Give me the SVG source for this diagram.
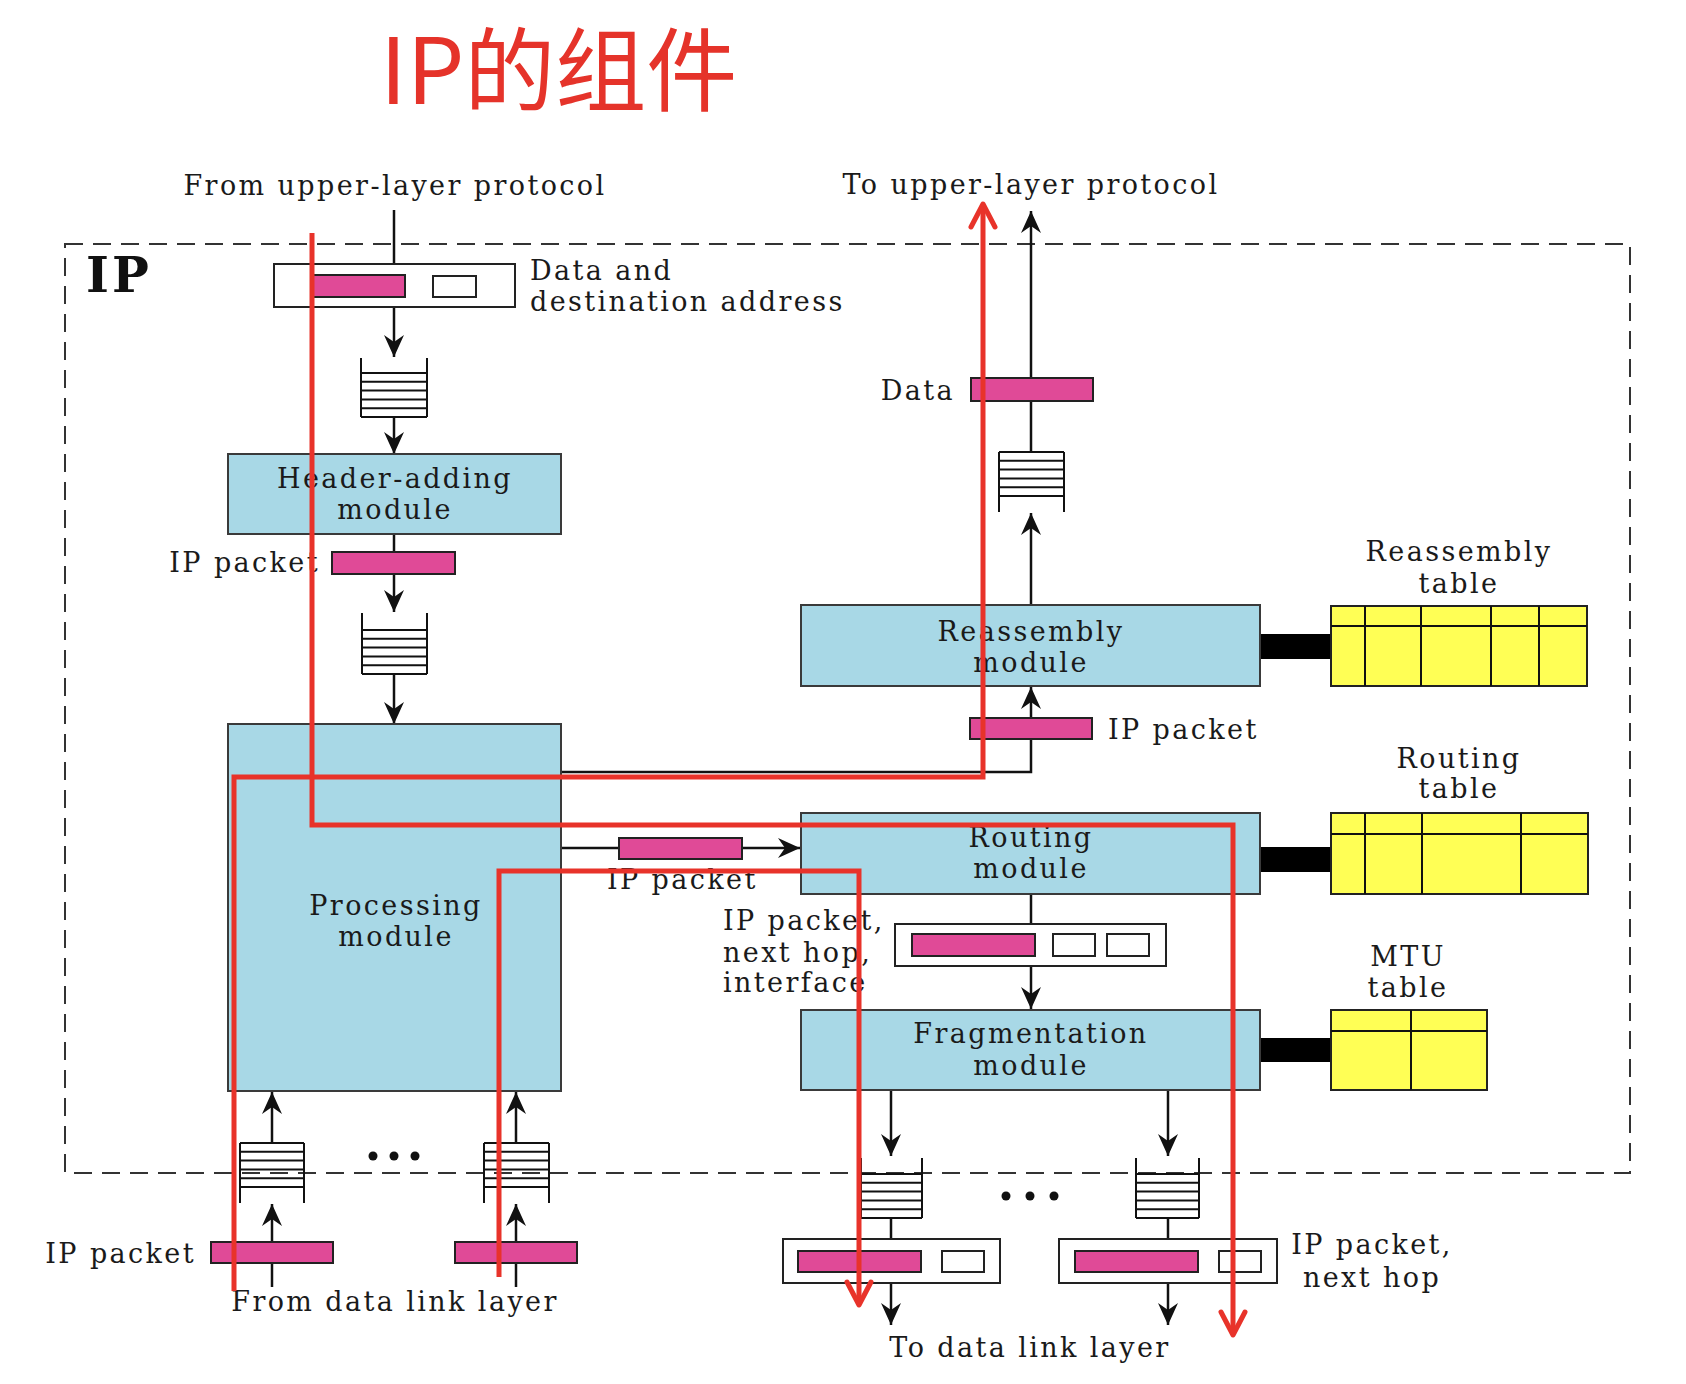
<svg xmlns="http://www.w3.org/2000/svg" width="1686" height="1384" viewBox="0 0 1686 1384">
<defs>
<style>
.t{font-family:"DejaVu Serif","Liberation Serif",serif;font-size:27px;letter-spacing:2.4px;fill:#1a1a1a}
.c{text-anchor:middle}
.e{text-anchor:end}
.mod{fill:#a8d8e6;stroke:#3a3a3a;stroke-width:2}
.pk{fill:#e04a97;stroke:#222;stroke-width:2}
.wb{fill:#fff;stroke:#222;stroke-width:2}
.tb{fill:#ffff55;stroke:#222;stroke-width:2}
.ln{fill:none;stroke:#111;stroke-width:2.5}
.q{fill:none;stroke:#111;stroke-width:2}
.red{fill:none;stroke:#e8332a;stroke-width:5}
.bar{fill:#000}
</style>
<marker id="ah" viewBox="0 0 22 20" refX="22" refY="10" markerWidth="22" markerHeight="20" markerUnits="userSpaceOnUse" orient="auto">
<path d="M0,0 L22,10 L0,20 L7,10 z" fill="#111"/>
</marker>
</defs>
<rect width="1686" height="1384" fill="#fff"/>

<text id="title" x="380" y="104" font-family="'Noto Sans CJK SC',sans-serif" font-size="91" font-weight="400" fill="#e5332a">IP的组件</text>

<g id="ip-boundary">
<rect x="65" y="244" width="1565" height="929" fill="none" stroke="#333" stroke-width="2" stroke-dasharray="18 10"/>
<text x="86" y="292" font-family="'DejaVu Serif',serif" font-weight="bold" font-size="49" letter-spacing="3" fill="#111">IP</text>
</g>

<g id="connectors">
<line class="ln" x1="394" y1="210" x2="394" y2="264"/>
<line class="ln" x1="394" y1="307" x2="394" y2="357" marker-end="url(#ah)"/>
<line class="ln" x1="394" y1="417" x2="394" y2="454" marker-end="url(#ah)"/>
<line class="ln" x1="394" y1="534" x2="394" y2="612" marker-end="url(#ah)"/>
<line class="ln" x1="394" y1="674" x2="394" y2="724" marker-end="url(#ah)"/>
<polyline class="ln" points="561,772 1031,772 1031,687" marker-end="url(#ah)"/>
<line class="ln" x1="1031" y1="605" x2="1031" y2="513" marker-end="url(#ah)"/>
<line class="ln" x1="1031" y1="452" x2="1031" y2="211" marker-end="url(#ah)"/>
<line class="ln" x1="561" y1="848" x2="800" y2="848" marker-end="url(#ah)"/>
<line class="ln" x1="1031" y1="894" x2="1031" y2="924"/>
<line class="ln" x1="1031" y1="966" x2="1031" y2="1009" marker-end="url(#ah)"/>
<line class="ln" x1="891" y1="1090" x2="891" y2="1156" marker-end="url(#ah)"/>
<line class="ln" x1="1168" y1="1090" x2="1168" y2="1156" marker-end="url(#ah)"/>
<line class="ln" x1="891" y1="1218" x2="891" y2="1239"/>
<line class="ln" x1="1168" y1="1218" x2="1168" y2="1239"/>
<line class="ln" x1="891" y1="1283" x2="891" y2="1325" marker-end="url(#ah)"/>
<line class="ln" x1="1168" y1="1283" x2="1168" y2="1325" marker-end="url(#ah)"/>
<line class="ln" x1="272" y1="1287" x2="272" y2="1204" marker-end="url(#ah)"/>
<line class="ln" x1="272" y1="1143" x2="272" y2="1092" marker-end="url(#ah)"/>
<line class="ln" x1="516" y1="1287" x2="516" y2="1204" marker-end="url(#ah)"/>
<line class="ln" x1="516" y1="1143" x2="516" y2="1092" marker-end="url(#ah)"/>
<rect class="bar" x="1260" y="634" width="71" height="25"/>
<rect class="bar" x="1260" y="847" width="71" height="25"/>
<rect class="bar" x="1260" y="1038" width="71" height="24"/>
</g>

<g id="upper-in-labels">
<text class="t c" x="395" y="195">From upper-layer protocol</text>
<text class="t c" x="1031" y="194">To upper-layer protocol</text>
</g>

<g id="data-dest-buffer">
<rect class="wb" x="274" y="264" width="241" height="43"/>
<rect class="pk" x="312" y="275" width="93" height="22"/>
<rect class="wb" x="433" y="276" width="43" height="21"/>
<text class="t" x="530" y="280">Data and</text>
<text class="t" x="530" y="311">destination address</text>
</g>

<g id="queue-in">
<path class="q" d="M361,358 V417 M427,358 V417 M361,373 H427 M361,381.8 H427 M361,390.6 H427 M361,399.4 H427 M361,408.2 H427 M361,417 H427"/>
</g>

<g id="header-adding-module">
<rect class="mod" x="228" y="454" width="333" height="80"/>
<text class="t c" x="395" y="488">Header-adding</text>
<text class="t c" x="395" y="519">module</text>
</g>

<g id="ip-packet-1">
<rect class="pk" x="332" y="552" width="123" height="22"/>
<text class="t e" x="320" y="572">IP packet</text>
</g>

<g id="queue-proc">
<path class="q" d="M362,613 V674 M427,613 V674 M362,630 H427 M362,638.8 H427 M362,647.6 H427 M362,656.4 H427 M362,665.2 H427 M362,674 H427"/>
</g>

<g id="processing-module">
<rect class="mod" x="228" y="724" width="333" height="367"/>
<text class="t c" x="396" y="915">Processing</text>
<text class="t c" x="396" y="946">module</text>
</g>

<g id="data-out">
<rect class="pk" x="971" y="378" width="122" height="23"/>
<text class="t e" x="955" y="400">Data</text>
</g>

<g id="queue-reasm">
<path class="q" d="M999,452 V512 M1064,452 V512 M999,452 H1064 M999,460.8 H1064 M999,469.6 H1064 M999,478.4 H1064 M999,487.2 H1064 M999,496 H1064"/>
</g>

<g id="reassembly-module">
<rect class="mod" x="801" y="605" width="459" height="81"/>
<text class="t c" x="1031" y="641">Reassembly</text>
<text class="t c" x="1031" y="672">module</text>
</g>

<g id="reassembly-table">
<text class="t c" x="1459" y="561">Reassembly</text>
<text class="t c" x="1459" y="593">table</text>
<rect class="tb" x="1331" y="606" width="256" height="80"/>
<path class="q" d="M1331,626 H1587 M1365,606 V686 M1421,606 V686 M1491,606 V686 M1539,606 V686"/>
</g>

<g id="ip-packet-reasm">
<rect class="pk" x="970" y="718" width="122" height="21"/>
<text class="t" x="1108" y="739">IP packet</text>
</g>

<g id="ip-packet-route">
<rect class="pk" x="619" y="838" width="123" height="21"/>
<text class="t" x="607" y="889">IP packet</text>
</g>

<g id="routing-module">
<rect class="mod" x="801" y="813" width="459" height="81"/>
<text class="t c" x="1031" y="847">Routing</text>
<text class="t c" x="1031" y="878">module</text>
</g>

<g id="routing-table">
<text class="t c" x="1459" y="768">Routing</text>
<text class="t c" x="1459" y="798">table</text>
<rect class="tb" x="1331" y="813" width="257" height="81"/>
<path class="q" d="M1331,834 H1588 M1365,813 V894 M1422,813 V894 M1521,813 V894"/>
</g>

<g id="next-hop-buffer">
<text class="t" x="723" y="930">IP packet,</text>
<text class="t" x="723" y="962">next hop,</text>
<text class="t" x="723" y="992">interface</text>
<rect class="wb" x="895" y="924" width="271" height="42"/>
<rect class="pk" x="912" y="934" width="123" height="22"/>
<rect class="wb" x="1053" y="934" width="42" height="22"/>
<rect class="wb" x="1107" y="934" width="42" height="22"/>
</g>

<g id="fragmentation-module">
<rect class="mod" x="801" y="1010" width="459" height="80"/>
<text class="t c" x="1031" y="1043">Fragmentation</text>
<text class="t c" x="1031" y="1075">module</text>
</g>

<g id="mtu-table">
<text class="t c" x="1408" y="966">MTU</text>
<text class="t c" x="1408" y="997">table</text>
<rect class="tb" x="1331" y="1010" width="156" height="80"/>
<path class="q" d="M1331,1031 H1487 M1411,1010 V1090"/>
</g>

<g id="queues-in-bottom">
<path class="q" d="M240,1143 V1203 M304,1143 V1203 M240,1143 H304 M240,1151.8 H304 M240,1160.6 H304 M240,1169.4 H304 M240,1178.2 H304 M240,1187 H304"/>
<path class="q" d="M484,1143 V1203 M549,1143 V1203 M484,1143 H549 M484,1151.8 H549 M484,1160.6 H549 M484,1169.4 H549 M484,1178.2 H549 M484,1187 H549"/>
<circle cx="373" cy="1156" r="4.5" fill="#111"/>
<circle cx="394" cy="1156" r="4.5" fill="#111"/>
<circle cx="415" cy="1156" r="4.5" fill="#111"/>
</g>

<g id="ip-packets-in">
<rect class="pk" x="211" y="1242" width="122" height="21"/>
<rect class="pk" x="455" y="1242" width="122" height="21"/>
<text class="t e" x="196" y="1263">IP packet</text>
<text class="t c" x="395" y="1311">From data link layer</text>
</g>

<g id="queues-out-bottom">
<path class="q" d="M861,1158 V1218 M922,1158 V1218 M861,1174 H922 M861,1182.8 H922 M861,1191.6 H922 M861,1200.4 H922 M861,1209.2 H922 M861,1218 H922"/>
<path class="q" d="M1136,1158 V1218 M1199,1158 V1218 M1136,1174 H1199 M1136,1182.8 H1199 M1136,1191.6 H1199 M1136,1200.4 H1199 M1136,1209.2 H1199 M1136,1218 H1199"/>
<circle cx="1006" cy="1196" r="4.5" fill="#111"/>
<circle cx="1030" cy="1196" r="4.5" fill="#111"/>
<circle cx="1054" cy="1196" r="4.5" fill="#111"/>
</g>

<g id="out-buffers">
<rect class="wb" x="783" y="1239" width="217" height="44"/>
<rect class="pk" x="798" y="1251" width="123" height="21"/>
<rect class="wb" x="942" y="1251" width="42" height="21"/>
<rect class="wb" x="1059" y="1239" width="218" height="44"/>
<rect class="pk" x="1075" y="1251" width="123" height="21"/>
<rect class="wb" x="1219" y="1251" width="42" height="21"/>
<text class="t c" x="1372" y="1254">IP packet,</text>
<text class="t c" x="1372" y="1287">next hop</text>
<text class="t c" x="1030" y="1357">To data link layer</text>
</g>

<g id="red-paths">
<path class="red" d="M234,1291 V777 H983 V205"/>
<path class="red" d="M971,227 L983,204 L995,227" stroke-linecap="round" stroke-linejoin="round"/>
<path class="red" d="M312,233 V825 H1233 V1334"/>
<path class="red" d="M1221,1312 L1233,1335 L1245,1312" stroke-linecap="round" stroke-linejoin="round"/>
<path class="red" d="M499,1277 V871 H859 V1303"/>
<path class="red" d="M847,1282 L859,1305 L871,1282" stroke-linecap="round" stroke-linejoin="round"/>
</g>
</svg>
